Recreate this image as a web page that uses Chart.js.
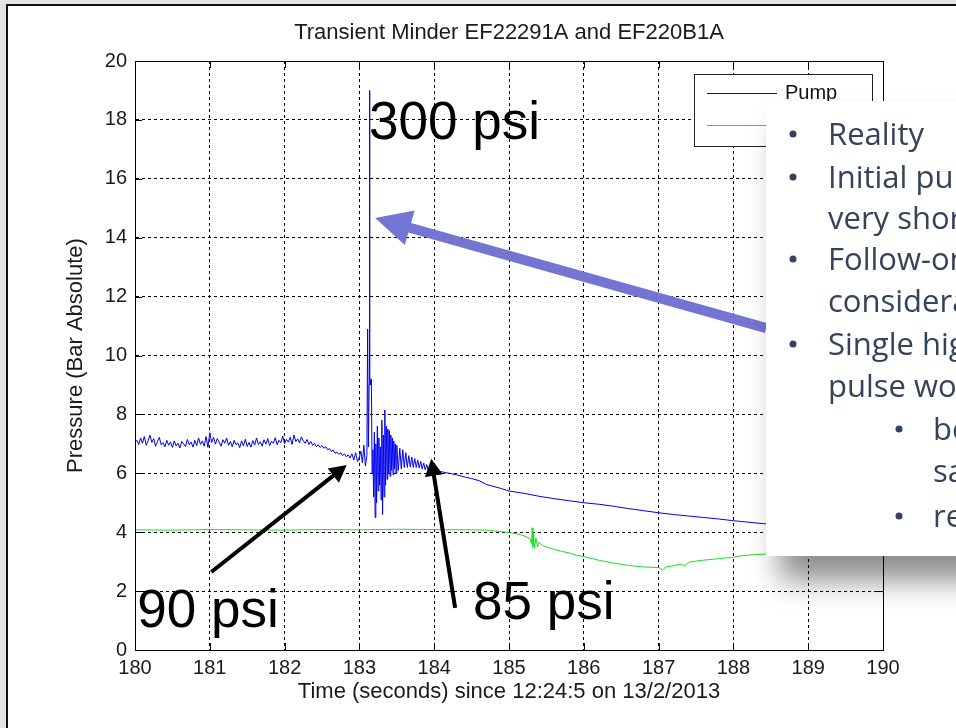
<!DOCTYPE html>
<html>
<head>
<meta charset="utf-8">
<script src="https://cdn.jsdelivr.net/npm/chart.js@4.4.0/dist/chart.umd.min.js"></script>
<style>
  body { margin: 0; background: #fff; }
  #wrap { width: 956px; height: 728px; }
</style>
</head>
<body>
<div id="wrap"><canvas id="pressureChart" width="956" height="728"></canvas></div>
<script>

// Pump pressure (bar absolute)
const pumpTime = [
  180.000,180.025,180.050,180.075,180.100,180.125,180.150,180.175,180.200,180.225,
  180.250,180.275,180.300,180.325,180.350,180.375,180.400,180.425,180.450,180.475,
  180.500,180.525,180.550,180.575,180.600,180.625,180.650,180.675,180.700,180.725,
  180.750,180.775,180.800,180.825,180.850,180.875,180.900,180.925,180.950,180.975,
  181.000,181.025,181.050,181.075,181.100,181.125,181.150,181.175,181.200,181.225,
  181.250,181.275,181.300,181.325,181.350,181.375,181.400,181.425,181.450,181.475,
  181.500,181.525,181.550,181.575,181.600,181.625,181.650,181.675,181.700,181.725,
  181.750,181.775,181.800,181.825,181.850,181.875,181.900,181.925,181.950,181.975,
  182.000,182.025,182.050,182.075,182.100,182.125,182.150,182.175,182.200,182.225,
  182.250,182.275,182.300,182.325,182.350,182.375,182.400,182.425,182.450,182.475,
  182.500,182.525,182.550,182.575,182.600,182.625,182.650,182.675,182.700,182.725,
  182.750,182.775,182.800,182.825,182.850,182.875,182.900,182.925,182.950,182.975,
  183.000,183.020,183.040,183.060,183.080,183.100,183.110,183.120,183.130,183.135,
  183.140,183.150,183.160,183.170,183.180,183.190,183.200,183.210,183.220,183.230,
  183.240,183.250,183.260,183.270,183.280,183.290,183.300,183.310,183.320,183.330,
  183.340,183.350,183.360,183.370,183.380,183.390,183.400,183.410,183.420,183.430,
  183.440,183.450,183.460,183.470,183.480,183.490,183.500,183.520,183.540,183.560,
  183.580,183.600,183.620,183.640,183.660,183.680,183.700,183.720,183.740,183.760,
  183.780,183.800,183.820,183.840,183.860,183.880,183.900,183.920,183.940,183.960,
  183.980,184.000,184.100,184.200,184.300,184.400,184.500,184.600,184.700,184.800,
  184.900,185.000,185.200,185.400,185.600,185.800,186.000,186.200,186.400,186.600,
  186.800,187.000,187.200,187.400,187.600,187.800,188.000,188.200,188.400,188.600,
  188.800,189.000,189.500,190.000
];
const pumpPressure = [
  7.05,7.12,6.98,7.20,7.02,7.25,6.95,7.10,7.30,7.05,
  7.18,6.92,7.08,7.22,6.97,7.04,6.90,7.12,6.95,7.06,
  6.88,7.10,6.93,7.02,6.86,7.08,7.00,6.91,7.15,6.97,
  7.06,6.89,7.12,6.94,7.20,6.98,7.10,6.92,7.25,6.88,
  7.38,7.05,7.22,6.99,7.18,7.06,6.92,7.14,7.02,7.20,
  6.95,7.08,6.90,7.12,6.97,7.03,6.87,7.10,6.93,7.16,
  6.91,7.05,6.89,7.11,6.96,7.20,6.98,7.07,6.92,7.14,
  6.99,7.18,6.94,7.09,7.02,7.21,6.97,7.12,7.04,7.26,
  7.01,7.15,7.06,7.22,6.98,7.30,7.08,7.17,7.03,7.24,
  7.10,7.02,7.15,6.98,7.08,6.95,7.02,6.90,6.97,6.88,
  6.94,6.85,6.90,6.80,6.84,6.74,6.79,6.68,6.72,6.64,
  6.70,6.60,6.66,6.56,6.63,6.52,6.66,6.45,6.70,6.40,
  6.55,6.75,6.35,6.95,6.25,6.60,10.90,6.90,9.00,19.00,
  9.30,9.00,9.20,6.00,6.80,5.20,7.40,4.50,7.00,5.00,
  7.60,5.40,7.20,5.60,6.90,5.10,7.80,4.60,7.30,5.20,
  8.15,5.60,7.60,5.80,7.50,6.00,7.45,5.90,7.30,6.10,
  7.20,5.95,7.10,6.15,7.00,6.00,6.95,6.10,6.85,6.15,
  6.80,6.20,6.70,6.20,6.60,6.22,6.55,6.20,6.50,6.20,
  6.45,6.18,6.40,6.15,6.35,6.12,6.30,6.10,6.25,6.12,
  6.20,6.10,6.05,6.00,5.95,5.88,5.82,5.75,5.62,5.55,
  5.48,5.40,5.32,5.22,5.14,5.07,5.00,4.95,4.88,4.80,
  4.73,4.66,4.60,4.55,4.50,4.45,4.39,4.34,4.29,4.26,
  4.23,4.20,4.15,4.10
];

// Second transducer (green trace)
const headerTime = [
  180.0,180.5,181.0,181.5,182.0,182.5,183.0,183.5,184.0,184.5,
  184.7,184.9,185.1,185.2,185.28,185.30,185.31,185.32,185.33,185.34,
  185.36,185.38,185.40,185.45,185.5,185.6,185.7,185.8,185.9,186.0,
  186.2,186.4,186.6,186.8,187.0,187.05,187.1,187.2,187.3,187.35,
  187.4,187.5,187.6,187.8,188.0,188.1,188.3,188.5,189.0,189.5,
  190.0
];
const headerPressure = [
  4.08,4.07,4.09,4.08,4.07,4.09,4.08,4.10,4.09,4.08,
  4.07,4.02,3.95,3.88,3.78,3.62,4.15,3.50,3.95,3.45,
  3.80,3.50,3.66,3.55,3.50,3.42,3.35,3.30,3.22,3.17,
  3.05,2.95,2.87,2.82,2.80,2.72,2.82,2.86,2.92,2.85,
  2.98,3.02,3.05,3.10,3.15,3.20,3.24,3.27,3.30,3.32,
  3.33
];

const seriesLabels = ['Pump', 'Header'];
const xTicks = [180, 181, 182, 183, 184, 185, 186, 187, 188, 189, 190];
const yTicks = [0, 2, 4, 6, 8, 10, 12, 14, 16, 18, 20];

const calloutLines = [
  { level: 1, bullet: true,  text: 'Reality' },
  { level: 1, bullet: true,  text: 'Initial pul' },
  { level: 1, bullet: false, text: 'very short' },
  { level: 1, bullet: true,  text: 'Follow-on' },
  { level: 1, bullet: false, text: 'considerab' },
  { level: 1, bullet: true,  text: 'Single high' },
  { level: 1, bullet: false, text: 'pulse wou' },
  { level: 2, bullet: true,  text: 'be' },
  { level: 2, bullet: false, text: 'sa' },
  { level: 2, bullet: true,  text: 're' }
];

const FONT = "'Liberation Sans', Arial, sans-serif";

function arrow(ctx, x1, y1, x2, y2, shaft, headLen, headHalf, color) {
  const dx = x2 - x1, dy = y2 - y1;
  const len = Math.sqrt(dx * dx + dy * dy);
  const ux = dx / len, uy = dy / len;
  const nx = -uy, ny = ux;
  const bx = x2 - ux * headLen, by = y2 - uy * headLen;
  ctx.save();
  ctx.fillStyle = color;
  ctx.beginPath();
  ctx.moveTo(x1 + nx * shaft / 2, y1 + ny * shaft / 2);
  ctx.lineTo(bx + nx * shaft / 2, by + ny * shaft / 2);
  ctx.lineTo(bx + nx * headHalf, by + ny * headHalf);
  ctx.lineTo(x2, y2);
  ctx.lineTo(bx - nx * headHalf, by - ny * headHalf);
  ctx.lineTo(bx - nx * shaft / 2, by - ny * shaft / 2);
  ctx.lineTo(x1 - nx * shaft / 2, y1 - ny * shaft / 2);
  ctx.closePath();
  ctx.fill();
  ctx.restore();
}

const overlay = {
  id: 'overlay',
  beforeDraw(chart) {
    const ctx = chart.ctx;
    ctx.save();
    ctx.fillStyle = '#e4e4e4';
    ctx.fillRect(0, 0, chart.width, chart.height);
    ctx.fillStyle = '#ffffff';
    ctx.fillRect(7, 5, chart.width, chart.height);
    ctx.strokeStyle = '#111';
    ctx.lineWidth = 2;
    ctx.strokeRect(7, 5, chart.width + 10, chart.height + 10);
    ctx.restore();
  },
  afterDraw(chart) {
    const ctx = chart.ctx;
    const a = chart.chartArea;
    const xs = chart.scales.x, ys = chart.scales.y;
    const px = v => xs.getPixelForValue(v);
    const py = v => ys.getPixelForValue(v);

    // axes box and inward tick marks
    ctx.save();
    ctx.strokeStyle = '#000';
    ctx.lineWidth = 1;
    ctx.strokeRect(Math.round(a.left) + 0.5, Math.round(a.top) + 0.5,
                   Math.round(a.right - a.left), Math.round(a.bottom - a.top));
    ctx.beginPath();
    xTicks.forEach(t => {
      const x = Math.round(px(t)) + 0.5;
      ctx.moveTo(x, a.bottom); ctx.lineTo(x, a.bottom - 7);
      ctx.moveTo(x, a.top); ctx.lineTo(x, a.top + 7);
    });
    yTicks.forEach(t => {
      const y = Math.round(py(t)) + 0.5;
      ctx.moveTo(a.left, y); ctx.lineTo(a.left + 7, y);
      ctx.moveTo(a.right, y); ctx.lineTo(a.right - 7, y);
    });
    ctx.stroke();
    ctx.restore();

    // MATLAB style legend
    ctx.save();
    ctx.fillStyle = '#fff';
    ctx.fillRect(694, 74, 178, 72);
    ctx.strokeStyle = '#222';
    ctx.lineWidth = 1;
    ctx.strokeRect(694.5, 74.5, 178, 72);
    ctx.font = '20px ' + FONT;
    ctx.textBaseline = 'middle';
    chart.data.datasets.forEach((ds, i) => {
      const y = 93 + i * 32;
      ctx.strokeStyle = ds.borderColor;
      ctx.beginPath();
      ctx.moveTo(707, y + 0.5); ctx.lineTo(777, y + 0.5);
      ctx.stroke();
      ctx.fillStyle = '#111';
      ctx.fillText(ds.label, 785, y);
    });
    ctx.restore();

    // psi annotations
    ctx.save();
    ctx.fillStyle = '#000';
    ctx.font = '53px ' + FONT;
    ctx.textBaseline = 'alphabetic';
    ctx.fillText('300 psi', px(183.13), py(17.35));
    ctx.fillText('90 psi', px(180.03), py(0.78));
    ctx.fillText('85 psi', px(184.52), py(1.05));
    ctx.restore();

    arrow(ctx, px(181.02), py(2.65), px(182.83), py(6.28), 4, 17, 9, '#000');
    arrow(ctx, px(184.28), py(1.43), px(183.96), py(6.49), 4, 17, 9, '#000');
    arrow(ctx, px(188.44), py(10.93), px(183.21), py(14.67), 10, 36, 18, '#7474d2');

    // callout box with drop shadow
    ctx.save();
    ctx.shadowColor = 'rgba(0,0,0,0.45)';
    ctx.shadowBlur = 28;
    ctx.shadowOffsetX = 14;
    ctx.shadowOffsetY = 24;
    ctx.fillStyle = '#fff';
    ctx.fillRect(766, 101, 260, 455);
    ctx.restore();

    ctx.save();
    ctx.fillStyle = '#34435a';
    ctx.font = '31px "Open Sans", sans-serif';
    ctx.textBaseline = 'alphabetic';
    const baselines = [145, 188, 229, 270, 312, 355, 397, 440, 482, 527];
    calloutLines.forEach((ln, i) => {
      const bx = ln.level === 1 ? 793 : 899;
      const tx = ln.level === 1 ? 828 : 933;
      if (ln.bullet) {
        ctx.beginPath();
        ctx.arc(bx, baselines[i] - 11, 3.5, 0, Math.PI * 2);
        ctx.fill();
      }
      ctx.fillText(ln.text, tx, baselines[i]);
    });
    ctx.restore();
  }
};

const ctx = document.getElementById('pressureChart');

const myChart = new Chart(ctx, {
  type: 'line',
  data: {
    datasets: [{
      label: seriesLabels[0],
      data: pumpTime.map((t, i) => ({ x: t, y: pumpPressure[i] })),
      borderColor: '#0000ee',
      borderWidth: 1,
      pointRadius: 0,
      tension: 0
    }, {
      label: seriesLabels[1],
      data: headerTime.map((t, i) => ({ x: t, y: headerPressure[i] })),
      borderColor: '#22dd22',
      borderWidth: 1,
      pointRadius: 0,
      tension: 0
    }]
  },
  options: {
    responsive: false,
    animation: false,
    layout: { padding: { left: 0, right: 73, top: 0, bottom: 0 } },
    plugins: {
      legend: { display: false },
      tooltip: { enabled: false },
      title: {
        display: true,
        fullSize: false,
        text: 'Transient Minder EF22291A and EF220B1A',
        color: '#1a1a1a',
        font: { family: FONT, size: 22, weight: 'normal' },
        padding: { top: 20, bottom: 14.6 }
      }
    },
    scales: {
      x: {
        type: 'linear',
        min: 180,
        max: 190,
        afterBuildTicks: s => { s.ticks = xTicks.map(v => ({ value: v })); },
        afterFit: s => { s.height = 78; },
        grid: { color: '#000', lineWidth: 1, drawTicks: false },
        border: { display: true, color: '#000', dash: [3, 3] },
        ticks: { color: '#1a1a1a', font: { family: FONT, size: 20 }, padding: 6, maxRotation: 0 },
        title: {
          display: true,
          text: 'Time (seconds) since 12:24:5 on 13/2/2013',
          color: '#1a1a1a',
          font: { family: FONT, size: 22 },
          padding: { top: 0, bottom: 23 }
        }
      },
      y: {
        min: 0,
        max: 20,
        afterBuildTicks: s => { s.ticks = yTicks.map(v => ({ value: v })); },
        afterFit: s => { s.width = 135; },
        grid: { color: '#000', lineWidth: 1, drawTicks: false },
        border: { display: true, color: '#000', dash: [3, 3] },
        ticks: { color: '#1a1a1a', font: { family: FONT, size: 20 }, padding: 8 },
        title: {
          display: true,
          text: 'Pressure (Bar Absolute)',
          color: '#1a1a1a',
          font: { family: FONT, size: 22 },
          padding: { top: 63, bottom: 0 }
        }
      }
    }
  },
  plugins: [overlay]
});
</script>
</body>
</html>
